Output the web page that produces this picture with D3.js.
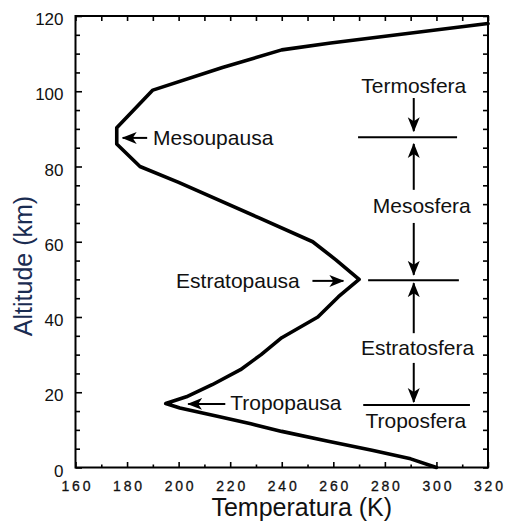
<!DOCTYPE html>
<html>
<head>
<meta charset="utf-8">
<script src="https://cdn.jsdelivr.net/npm/d3@7"></script>
<style>
  html, body { margin: 0; padding: 0; background: #fff; }
  svg { display: block; }
  text { font-family: "Liberation Sans", Arial, Helvetica, sans-serif; fill: #111; }
</style>
</head>
<body>
<svg id="chart" width="505" height="523"></svg>
<script>
// Temperature profile of the standard atmosphere (K vs km)
const temperature = [300, 290, 275, 258, 240, 228, 215, 200.5, 195, 203, 213, 224, 232, 240, 254, 262, 270, 261, 252, 231, 200, 185, 176, 176, 190, 217, 240, 259, 320];
const altitude    = [0, 2.3, 4.6, 7.0, 9.6, 11.6, 13.6, 15.8, 17, 18.8, 22, 26, 30, 34.5, 40, 45.4, 50, 55.2, 60, 66.4, 75.8, 80, 86, 90.3, 100.3, 106.3, 111, 112.8, 118];

// Axis ticks
const xTicks = [160, 180, 200, 220, 240, 260, 280, 300, 320];
const xMinorTicks = [170, 190, 210, 230, 250, 270, 290, 310];
const yTicks = [0, 20, 40, 60, 80, 100, 120];
const yMinorTicks = [5, 10, 15, 25, 30, 35, 45, 50, 55, 65, 70, 75, 85, 90, 95, 105, 110, 115];

// Pause labels with arrows pointing at the curve (T, km)
const pauseNames   = ["Mesoupausa", "Estratopausa", "Tropopausa"];
const pauseTextT   = [190.1, 199.0, 220.0];
const pauseTextAlt = [85.7, 47.7, 15.3];
const pauseArrowFromT = [187.8, 251.9, 218.1];
const pauseArrowToT   = [178.3, 263.9, 203.7];
const pauseArrowAlt   = [87.6, 49.6, 16.9];

// Layer names and boundaries on the right side
const layerNames   = ["Termosfera", "Mesosfera", "Estratosfera", "Troposfera"];
const layerTextT   = [291.2, 294.3, 292.7, 292.0];
const layerTextAlt = [99.5, 67.6, 29.9, 10.5];
const boundaryAlt    = [87.8, 49.8, 16.6];
const boundaryStartT = [269.6, 273.5, 271.6];
const boundaryEndT   = [308.0, 308.7, 313.0];
const layerArrowT = 291.2;
const layerArrowFrom = [98.2, 73.8, 65.0, 35.7, 27.8];
const layerArrowTo   = [89.4, 86.0, 51.2, 49.0, 17.4];

const svg = d3.select("#chart");
const x = d3.scaleLinear().domain([160, 320]).range([75.5, 488]);
const y = d3.scaleLinear().domain([0, 120]).range([467.5, 16]);

svg.append("rect").attr("width", 505).attr("height", 523).attr("fill", "#fff");

// Arrowhead marker
const defs = svg.append("defs");
defs.append("marker")
  .attr("id", "head")
  .attr("markerUnits", "userSpaceOnUse")
  .attr("viewBox", "0 -7 15 14")
  .attr("refX", 14).attr("refY", 0)
  .attr("markerWidth", 15).attr("markerHeight", 14)
  .attr("orient", "auto")
  .append("path")
  .attr("d", "M0,-6 L15,0 L0,6 L4,0 Z")
  .attr("fill", "#000");

// Axes with inward ticks
function styleAxis(g) {
  g.select(".domain").remove();
  g.selectAll(".tick line").attr("stroke", "#000").attr("stroke-width", 1.6);
}

const bottom = svg.append("g").attr("transform", `translate(0,${y(0)})`)
  .call(d3.axisBottom(x).tickValues(xTicks).tickSizeInner(-5.5).tickSizeOuter(0).tickPadding(14).tickFormat(d3.format("d")))
  .call(styleAxis);
bottom.selectAll("text")
  .attr("font-size", 14)
  .attr("textLength", 29).attr("lengthAdjust", "spacing")
  .attr("font-family", "Liberation Sans, Arial, sans-serif").attr("fill", "#111")
  .attr("stroke", "#111").attr("stroke-width", 0.3);
svg.append("g").attr("transform", `translate(0,${y(0)})`)
  .call(d3.axisBottom(x).tickValues(xMinorTicks).tickSizeInner(-3).tickSizeOuter(0).tickFormat(""))
  .call(styleAxis);

svg.append("g").attr("transform", `translate(0,${y(120)})`)
  .call(d3.axisTop(x).tickValues(xTicks.concat(xMinorTicks)).tickSizeInner(-5).tickSizeOuter(0).tickFormat(""))
  .call(styleAxis);

const left = svg.append("g").attr("transform", `translate(${x(160)},0)`)
  .call(d3.axisLeft(y).tickValues(yTicks).tickSizeInner(-6.5).tickSizeOuter(0).tickPadding(12).tickFormat(d3.format("d")))
  .call(styleAxis);
left.selectAll("text").attr("font-size", 17).attr("dy", "0.5em")
  .attr("font-family", "Liberation Sans, Arial, sans-serif").attr("fill", "#111");
svg.append("g").attr("transform", `translate(${x(160)},0)`)
  .call(d3.axisLeft(y).tickValues(yMinorTicks).tickSizeInner(-4.5).tickSizeOuter(0).tickFormat(""))
  .call(styleAxis);

svg.append("g").attr("transform", `translate(${x(320)},0)`)
  .call(d3.axisRight(y).tickValues(yTicks.concat(yMinorTicks)).tickSizeInner(-5).tickSizeOuter(0).tickFormat(""))
  .call(styleAxis);

// Plot frame
svg.append("rect")
  .attr("x", x(160)).attr("y", y(120))
  .attr("width", x(320) - x(160)).attr("height", y(0) - y(120))
  .attr("fill", "none").attr("stroke", "#000").attr("stroke-width", 2);

// Axis titles
svg.append("text")
  .attr("x", (x(160) + x(320)) / 2 + 20).attr("y", 516)
  .attr("text-anchor", "middle").attr("font-size", 25)
  .text("Temperatura (K)");
svg.append("text")
  .attr("transform", `translate(32,${266}) rotate(-90)`)
  .attr("text-anchor", "middle").attr("font-size", 25)
  .style("fill", "#1a2c52")
  .text("Altitude (km)");

// Temperature curve
const profile = temperature.map((t, i) => [t, altitude[i]]);
svg.append("path")
  .datum(profile)
  .attr("d", d3.line().x(d => x(d[0])).y(d => y(d[1])))
  .attr("fill", "none").attr("stroke", "#000")
  .attr("stroke-width", 3.6).attr("stroke-linejoin", "round").attr("stroke-linecap", "round");

// Pause annotations
pauseNames.forEach((name, i) => {
  svg.append("line")
    .attr("x1", x(pauseArrowFromT[i])).attr("y1", y(pauseArrowAlt[i]))
    .attr("x2", x(pauseArrowToT[i])).attr("y2", y(pauseArrowAlt[i]))
    .attr("stroke", "#000").attr("stroke-width", 2)
    .attr("marker-end", "url(#head)");
  svg.append("text")
    .attr("x", x(pauseTextT[i])).attr("y", y(pauseTextAlt[i]))
    .attr("font-size", 21)
    .text(name);
});

// Layer boundaries
boundaryAlt.forEach((a, i) => {
  svg.append("line")
    .attr("x1", x(boundaryStartT[i])).attr("x2", x(boundaryEndT[i]))
    .attr("y1", y(a)).attr("y2", y(a))
    .attr("stroke", "#000").attr("stroke-width", 2);
});

// Layer arrows
layerArrowFrom.forEach((a, i) => {
  svg.append("line")
    .attr("x1", x(layerArrowT)).attr("x2", x(layerArrowT))
    .attr("y1", y(a)).attr("y2", y(layerArrowTo[i]))
    .attr("stroke", "#000").attr("stroke-width", 2)
    .attr("marker-end", "url(#head)");
});

// Layer names
layerNames.forEach((name, i) => {
  svg.append("text")
    .attr("x", x(layerTextT[i])).attr("y", y(layerTextAlt[i]))
    .attr("text-anchor", "middle").attr("font-size", 21)
    .text(name);
});
</script>
</body>
</html>
